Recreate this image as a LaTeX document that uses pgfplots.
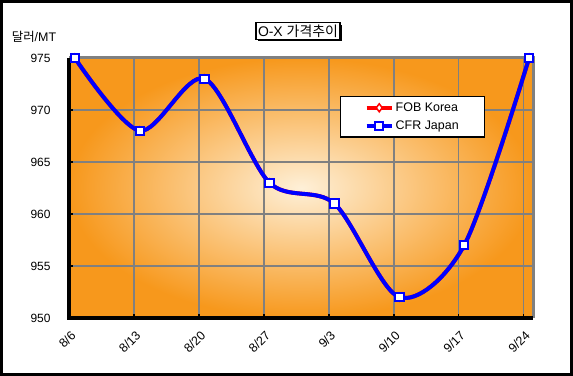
\documentclass[border=0pt]{standalone}
\usepackage{pgfplots}
\pgfplotsset{compat=1.18}
\usepackage{fontspec}
\setmainfont{Liberation Sans}
\newfontfamily\kr{Noto Sans CJK KR}
\usetikzlibrary{shadows}
\definecolor{orangeO}{RGB}{247,152,28}
\definecolor{creamI}{RGB}{254,240,216}
\definecolor{gridgray}{RGB}{128,128,128}
\definecolor{serblue}{RGB}{0,0,255}
\definecolor{serred}{RGB}{255,0,0}
\begin{document}
\begin{tikzpicture}
\useasboundingbox (0,0) rectangle (573bp,376bp);
\fill[white] (0,0) rectangle (573bp,376bp);
\begin{axis}[
  at={(69bp,58bp)}, anchor=south west,
  scale only axis, width=464bp, height=260bp,
  xmin=-0.09, xmax=7.06, ymin=950, ymax=975,
  axis background/.style={shade, shading=radial, inner color=creamI, outer color=orangeO},
  axis line style={draw=none},
  xtick={-0.085,0.915,1.915,2.915,3.915,4.915,5.915,6.915},
  xticklabels={8/6,8/13,8/20,8/27,9/3,9/10,9/17,9/24},
  ytick={950,955,...,975},
  xtick pos=bottom, ytick pos=left,
  grid=major, major grid style={gridgray, line width=1.5bp},
  tick style={black, line width=1.5bp}, major tick length=4bp, tick align=inside,
  /pgf/number format/assume math mode=true,
  yticklabel style={font=\fontsize{12}{14}\selectfont, xshift=-15bp},
  xticklabel style={font=\fontsize{12.5}{14}\selectfont, rotate=45, anchor=north east, inner sep=0bp, yshift=-9bp, xshift=-8bp},
  legend style={at={(0.584,0.854)}, anchor=north west, draw=black, line width=1.5bp, fill=white,
     font=\fontsize{12.5}{17}\selectfont, inner xsep=24bp, inner ysep=4bp, row sep=4bp},
  legend cell align=left,
  legend image code/.code={\draw[mark repeat=2,mark phase=2] plot coordinates {(0bp,0bp) (12.5bp,0bp) (25bp,0bp)};},
  clip=false,
]
\draw[gridgray, line width=3bp] (rel axis cs:0,1) -- (rel axis cs:1,1) -- (rel axis cs:1,0);
\draw[black, line width=3bp] (rel axis cs:0,1) -- (rel axis cs:0,0) -- (rel axis cs:1,0);
\addplot[serred, line width=4bp, smooth, mark=diamond*, mark size=4bp, mark options={fill=white, draw=serred, line width=1.5bp}]
  coordinates {(0,975) (1,968) (2,973) (3,963) (4,961) (5,952) (6,957) (7,975)};
\addlegendentry{FOB Korea}
\addplot[serblue, line width=4bp, smooth, mark=square*, mark size=4.2bp, mark options={fill=white, draw=serblue, line width=2bp}]
  coordinates {(0,975) (1,968) (2,973) (3,963) (4,961) (5,952) (6,957) (7,975)};
\addlegendentry{CFR Japan}
\end{axis}
\node[anchor=center, font=\fontsize{12.5}{14}\selectfont] at (34bp,339bp) {{\kr 달러}/MT};
\node[draw=black, line width=1.5bp, fill=white, inner sep=2bp, drop shadow={shadow xshift=2bp, shadow yshift=-2bp, fill=black, opacity=1},
      font=\fontsize{14}{16}\selectfont] at (298bp,345bp) {O-X {\kr 가격추이}};
\draw[black, line width=3bp] (1.5bp,1.5bp) rectangle (571.5bp,374.5bp);
\end{tikzpicture}
\end{document}
